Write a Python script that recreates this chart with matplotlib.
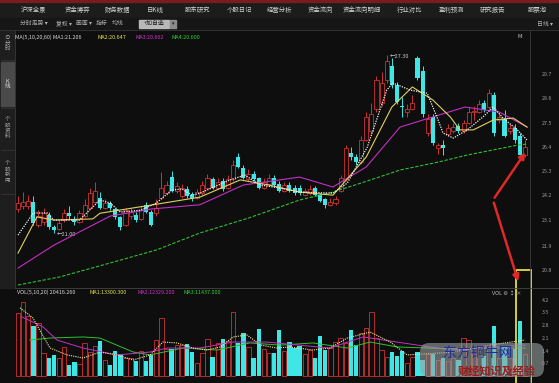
import matplotlib.pyplot as plt
from matplotlib.patches import Rectangle, FancyBboxPatch, FancyArrowPatch

plt.rcParams['font.family'] = ['Noto Sans CJK SC', 'DejaVu Sans']

# 日K线数据: 开 收 高 低
opens = [21.85, 21.95, 21.95, 22.10, 21.30, 21.40, 21.65, 21.20, 21.15, 21.45,
         21.70, 21.50, 21.40, 21.60, 21.90, 22.10, 22.25, 21.90, 22.05, 21.85,
         21.55, 21.30, 21.60, 21.65, 21.50, 22.00, 21.75, 21.70, 22.25, 22.40,
         23.00, 22.50, 22.30, 22.55, 22.35, 22.25, 22.40, 22.60, 22.90, 22.60,
         22.85, 22.60, 22.90, 23.70, 23.30, 22.90, 23.10, 22.95, 22.60, 22.75,
         22.95, 22.75, 22.50, 22.70, 22.60, 22.60, 22.35, 22.40, 22.60, 22.35,
         22.20, 22.00, 22.05, 22.50, 22.90, 23.85, 23.70, 23.50, 24.30, 24.60,
         25.40, 25.60, 26.40, 26.90, 26.25, 25.50, 25.30, 25.40, 27.20, 26.75,
         24.55, 25.10, 24.00, 24.10, 24.50, 24.60, 24.80, 24.60, 24.90, 25.28,
         25.30, 25.60, 25.45, 25.90, 25.00, 25.05, 24.60, 24.70, 24.45, 23.75]
closes = [22.05, 22.10, 22.15, 21.35, 21.60, 21.70, 21.20, 21.10, 21.35, 21.70,
          21.62, 21.38, 21.70, 22.00, 22.40, 22.50, 21.90, 22.05, 21.88, 21.55,
          21.20, 21.80, 21.75, 21.45, 21.80, 21.75, 21.30, 21.90, 22.60, 22.70,
          22.50, 22.65, 22.60, 22.30, 22.25, 22.45, 22.70, 22.95, 22.60, 22.80,
          22.55, 22.90, 23.40, 23.35, 22.95, 23.10, 22.90, 22.60, 22.80, 22.95,
          22.70, 22.50, 22.70, 22.50, 22.40, 22.40, 22.50, 22.55, 22.35, 22.15,
          22.00, 22.10, 22.20, 22.95, 24.00, 23.70, 23.50, 24.30, 25.10, 25.20,
          26.40, 26.30, 27.10, 26.25, 25.65, 25.45, 25.40, 25.60, 26.50, 25.20,
          25.05, 24.20, 24.10, 24.00, 24.70, 24.75, 24.60, 24.90, 25.30, 25.32,
          25.55, 25.35, 25.95, 24.55, 25.10, 24.45, 24.72, 24.30, 23.75, 24.05]
highs = [22.30, 22.45, 22.35, 22.30, 21.80, 21.90, 21.75, 21.30, 21.45, 21.85,
         21.95, 21.60, 21.80, 22.20, 22.60, 22.80, 22.45, 22.20, 22.15, 21.90,
         21.60, 21.90, 21.90, 21.75, 21.95, 22.10, 21.80, 22.20, 23.15, 22.85,
         23.20, 22.80, 22.75, 22.65, 22.45, 22.55, 22.85, 23.10, 23.00, 22.95,
         22.95, 23.05, 23.60, 23.85, 23.40, 23.25, 23.20, 23.00, 22.95, 23.10,
         23.05, 22.85, 22.80, 22.80, 22.70, 22.70, 22.60, 22.70, 22.65, 22.40,
         22.25, 22.25, 22.30, 23.05, 24.10, 24.05, 23.80, 24.45, 25.30, 25.60,
         26.55, 26.70, 27.30, 27.20, 26.35, 25.80, 25.55, 25.90, 27.28, 26.90,
         25.20, 25.20, 24.20, 24.30, 24.85, 24.90, 24.90, 25.00, 25.45, 25.50,
         25.70, 25.70, 26.10, 26.00, 25.25, 25.35, 24.85, 24.85, 24.55, 24.30]
lows = [21.75, 21.85, 21.85, 21.30, 21.20, 21.30, 21.15, 21.00, 21.10, 21.40,
        21.50, 21.30, 21.35, 21.55, 21.85, 22.05, 21.85, 21.85, 21.80, 21.50,
        21.10, 21.25, 21.50, 21.40, 21.45, 21.70, 21.25, 21.60, 22.20, 22.35,
        22.45, 22.40, 22.25, 22.25, 22.15, 22.20, 22.35, 22.55, 22.55, 22.55,
        22.50, 22.55, 22.85, 23.30, 22.90, 22.85, 22.85, 22.55, 22.55, 22.70,
        22.65, 22.45, 22.45, 22.45, 22.35, 22.35, 22.30, 22.35, 22.30, 22.10,
        21.90, 21.95, 22.00, 22.45, 22.85, 23.60, 23.40, 23.45, 24.25, 24.50,
        25.30, 25.50, 26.30, 26.15, 25.55, 25.10, 25.10, 25.35, 26.40, 25.10,
        24.45, 24.10, 23.80, 23.75, 24.45, 24.55, 24.55, 24.55, 24.85, 25.00,
        25.25, 25.30, 25.40, 24.45, 24.90, 24.40, 24.50, 24.20, 23.70, 23.70]
# 成交量
vols = [3.47, 4.08, 3.30, 2.75, 2.90, 1.27, 0.99, 1.16, 1.00, 1.60,
        0.61, 0.77, 0.66, 1.82, 1.32, 1.65, 1.93, 0.88, 0.61, 1.38,
        1.21, 1.00, 0.99, 0.83, 1.38, 0.83, 1.16, 1.98, 3.20, 1.50,
        1.49, 1.70, 1.70, 1.76, 1.32, 0.72, 1.27, 2.04, 1.05, 1.80,
        2.04, 1.90, 3.53, 1.82, 2.37, 1.60, 0.99, 2.59, 1.50, 1.27,
        1.27, 2.53, 1.40, 1.87, 1.54, 1.65, 1.20, 1.43, 0.99, 2.20,
        1.43, 1.54, 1.87, 2.09, 1.80, 2.53, 1.71, 2.37, 2.64, 3.53,
        2.09, 1.43, 1.05, 1.30, 1.10, 1.38, 0.72, 1.05, 1.32, 0.88,
        1.20, 1.20, 0.90, 1.00, 0.80, 1.00, 0.90, 2.09, 2.00, 1.20,
        1.40, 1.10, 1.60, 2.75, 1.00, 1.60, 1.00, 1.50, 3.03, 1.20]

# 均线 (读图取点)
ma5_x = [0, 3, 5.7, 7, 12, 16, 18, 20, 24, 27, 30, 32, 34, 35.5, 41.4, 44.3, 47.3, 51.2, 55,
         61.5, 64.3, 68.2, 72, 73.2, 76.6, 79.9, 81.8, 83, 85, 87.7, 90.8, 92.8, 94.7, 97.5, 99.4]
ma5_v = [20.93, 21.71, 21.71, 21.46, 21.46, 22.17, 22.06, 21.74, 21.81, 22.06, 22.52, 22.56, 22.34,
         22.41, 22.88, 23.05, 22.70, 22.59, 22.45, 22.41, 22.77, 24.04, 26.06, 26.31, 26.06, 25.95,
         25.11, 24.54, 24.36, 24.65, 25.11, 25.46, 25.07, 24.65, 24.29]
ma10_x = [0, 3.7, 7, 14.6, 16, 26, 35.5, 43.4, 49, 55, 61.5, 68, 73, 77, 81, 84.4, 86.3, 88.9,
          92.8, 96.7, 99.4]
ma10_v = [20.29, 21.57, 21.46, 21.50, 21.70, 21.99, 22.27, 22.88, 22.70, 22.45, 22.34, 23.69,
          25.46, 26.17, 25.71, 25.11, 24.65, 24.65, 25.00, 25.07, 24.75]
ma20_x = [0, 7, 18, 26, 35.5, 44, 55, 61.5, 68, 74.6, 81, 87.3, 94, 99.4]
ma20_v = [19.76, 20.57, 21.60, 21.85, 22.00, 22.70, 22.98, 22.63, 23.34, 24.75, 25.11, 25.46,
          25.28, 24.75]
ma60_x = [0, 8, 18, 27, 35.5, 45, 55, 61.5, 67, 74.6, 82, 87.7, 97.5, 99.4]
ma60_v = [19.16, 19.44, 19.94, 20.40, 21.00, 21.53, 22.17, 22.45, 22.77, 23.23, 23.51, 23.76,
          24.11, 24.15]

vma1_x = [0.4, 2.9, 6.25, 9.6, 12.7, 16, 19.3, 22.5, 25.8, 28.3, 31, 34.2, 36.9, 39.5, 42, 44.7,
          47.3, 50.6, 53.1, 57.6, 60.9, 64.3, 68.75, 72.7, 76, 84.4, 92.2, 99]
vma1_v = [3.75, 3.20, 1.54, 1.16, 0.99, 1.32, 1.16, 0.88, 1.16, 1.87, 1.82, 1.54, 1.43, 1.60,
          2.15, 2.26, 1.71, 1.54, 1.60, 1.43, 1.54, 2.09, 2.42, 1.87, 1.16, 1.30, 1.70, 1.98]
vma2_x = [0.8, 4.9, 7.6, 12.7, 19.3, 25.8, 29.1, 35.5, 42, 48.6, 54.5, 60.9, 67.4, 74, 84.4, 99]
vma2_v = [3.25, 2.70, 1.98, 1.54, 1.16, 1.32, 1.54, 1.54, 1.87, 1.87, 1.71, 1.54, 2.15, 1.87,
          1.43, 1.70]
vma3_x = [2.3, 6.25, 12.7, 16, 22.5, 25.8, 32.2, 38.9, 45.3, 51.2, 57.6, 64.3, 68.75, 74, 84.4, 99]
vma3_v = [1.98, 2.09, 2.15, 2.09, 1.32, 1.16, 1.54, 1.43, 1.82, 1.70, 1.82, 1.54, 1.87, 1.60,
          1.50, 1.54]

price_ticks = [29.7, 28.6, 27.5, 26.4, 25.3, 24.2, 23.1, 21.9, 20.8]
vol_ticks = [4.2, 3.5, 2.8, 2.1, 1.4, 0.7]

menu = ['沪深全景', '资金博弈', '财务数据', '日K线', '股东研究', '个股日记', '经营分析',
        '资金流向', '资金流向明细', '行业对比', '盈利预测', '研究报告', '股票池']
menu_x = [34, 77, 118, 155, 198, 240, 280, 320, 362, 410, 452, 492, 537]

RED = '#cc3333'
CYAN = '#3ee6e6'
BG = '#0e0e0e'
W, H = 559, 383

fig = plt.figure(figsize=(5.59, 3.83), dpi=100, facecolor=BG)


def box(x0, y0, x1, y1):
    return [x0 / W, 1 - y1 / H, (x1 - x0) / W, (y1 - y0) / H]


ax = fig.add_axes(box(15, 33, 529, 287), facecolor=BG)
axv = fig.add_axes(box(15, 293, 529, 378), facecolor=BG)

n = len(opens)
xs = list(range(n))
up = [c >= o for o, c in zip(opens, closes)]

# 蜡烛
for i in xs:
    col = RED if up[i] else CYAN
    ax.vlines(i, lows[i], highs[i], color=col, lw=0.7, zorder=2)
    bot = min(opens[i], closes[i])
    h = max(abs(closes[i] - opens[i]), 0.03)
    if up[i]:
        ax.bar(i, h, bottom=bot, width=0.8, facecolor=BG, edgecolor=col, lw=0.6, zorder=3)
    else:
        ax.bar(i, h, bottom=bot, width=0.8, color=col, lw=0, zorder=3)

ax.plot(ma60_x, ma60_v, color='#2fc12f', lw=0.8, ls=(0, (3, 1.5)), zorder=4)
ax.plot(ma20_x, ma20_v, color='#c42fc4', lw=0.8, zorder=4)
ax.plot(ma10_x, ma10_v, color='#e0d060', lw=0.8, zorder=4)
ax.plot(ma5_x, ma5_v, color='#f0f0f0', lw=0.9, ls=(0, (1, 1)), zorder=4)

ax.annotate('←27.30', (72, 27.30), xytext=(2, -1), textcoords='offset points',
            color='#c8c8c8', fontsize=4, va='center', ha='left')
ax.annotate('←21.00', (7, 21.00), xytext=(2, -1), textcoords='offset points',
            color='#c8c8c8', fontsize=4, va='center', ha='left')

ax.set_xlim(-0.586, 99.78)
ax.set_ylim(19.09, 28.08)
ax.set_xticks([])
ax.set_yticks([])
for s in ax.spines.values():
    s.set_visible(False)

# 右侧价格刻度
tw = ax.twinx()
tw.set_ylim(20.04, 31.56)
tw.set_yticks(price_ticks)
tw.set_yticklabels([f'{t:.1f}' for t in price_ticks])
tw.tick_params(axis='y', length=0, pad=9, labelsize=3.8, labelcolor='#9a9a9a')
for s in tw.spines.values():
    s.set_visible(False)

# 成交量
for i in xs:
    if up[i]:
        axv.bar(i, vols[i], width=0.85, facecolor=BG, edgecolor=RED, lw=0.6)
    else:
        axv.bar(i, vols[i], width=0.85, color=CYAN, lw=0)
axv.plot(vma3_x, vma3_v, color='#2fc12f', lw=0.7)
axv.plot(vma2_x, vma2_v, color='#c42fc4', lw=0.7)
axv.plot(vma1_x, vma1_v, color='#f0e890', lw=0.8, ls=(0, (1, 1)))
axv.set_xlim(-0.586, 99.78)
axv.set_ylim(-0.11, 4.57)
axv.set_xticks([])
axv.yaxis.tick_right()
axv.set_yticks(vol_ticks)
axv.set_yticklabels([f'{t:.1f}' for t in vol_ticks])
axv.tick_params(axis='y', length=0, pad=9, labelsize=3.8, labelcolor='#9a9a9a')
for s in axv.spines.values():
    s.set_visible(False)

# 界面框架
ov = fig.add_axes([0, 0, 1, 1], zorder=10)
ov.set_xlim(0, W)
ov.set_ylim(H, 0)
ov.axis('off')
ov.patch.set_alpha(0)

ov.add_patch(Rectangle((0, 0), W, 18, color='#1c1c1c'))
ov.add_patch(Rectangle((0, 0), W, 2, color='#7a1c1c'))
ov.add_patch(Rectangle((0, 18), W, 12, color='#161616'))
ov.plot([0, W], [30, 30], color='#343434', lw=0.6)
for t, x in zip(menu, menu_x):
    ov.text(x, 10, t, color='#d0d0d0', fontsize=4.6, ha='center', va='center')

tools = [('分时走势 ▾', 34), ('复权 ▾', 64), ('画面 ▾', 84), ('指标', 102), ('均线', 118)]
for t, x in tools:
    ov.text(x, 23.5, t, color='#b0b0b0', fontsize=4.2, ha='center', va='center')
ov.add_patch(Rectangle((139, 19.5), 30, 8.5, color='#b8b8b8'))
ov.add_patch(Rectangle((170, 19.5), 6, 8.5, color='#8a8a8a'))
ov.text(154, 23.8, '+加自选', color='#1a1a1a', fontsize=4.2, ha='center', va='center')
ov.text(173, 23.8, '▾', color='#1a1a1a', fontsize=3.5, ha='center', va='center')
ov.text(545, 24, '日线 ▾', color='#b0b0b0', fontsize=4.2, ha='center', va='center')

# 左侧标签
ov.add_patch(Rectangle((0, 30), 14, 258, color='#1e1e1e'))
ov.add_patch(Rectangle((1, 62), 13, 44, color='#4a4a4a'))
ov.plot([15, 15], [30, 288], color='#3a3a3a', lw=0.6)
ov.text(7.5, 46, '分\n时', color='#b0b0b0', fontsize=4, ha='center', va='center', linespacing=1.1)
ov.text(7.5, 84, 'K\n线', color='#e0e0e0', fontsize=4, ha='center', va='center', linespacing=1.2)
ov.text(7.5, 128, '个\n股\n资\n料', color='#a0a0a0', fontsize=4, ha='center', va='center', linespacing=1.1)
ov.text(7.5, 172, '个\n股\n新\n闻', color='#a0a0a0', fontsize=4, ha='center', va='center', linespacing=1.1)
for y in [60, 108, 150, 194]:
    ov.plot([1, 14], [y, y], color='#3a3a3a', lw=0.5)

# 图例
ov.text(7, 37.5, '⊙', color='#b0b0b0', fontsize=4, ha='center', va='center')
legend = [('MA(5,10,20,60) MA1:21.206', 15, '#d8d8d8'), ('MA2:20.647', 98, '#e8e050'),
          ('MA3:20.662', 135, '#d030d0'), ('MA4:20.600', 172, '#30d030')]
for t, x, c in legend:
    ov.text(x, 37.5, t, color=c, fontsize=3.9, ha='left', va='center')
ov.text(518, 37, 'M:', color='#c8c8c8', fontsize=3.8, ha='left', va='center')

vlegend = [('VOL(5,10,20) 20416.260', 17, '#d8d8d8'), ('MA1:13300.300', 90, '#e8e050'),
           ('MA2:12329.200', 137, '#d030d0'), ('MA3:11437.000', 183, '#30d030')]
for t, x, c in vlegend:
    ov.text(x, 292, t, color=c, fontsize=3.9, ha='left', va='center')
ov.text(492, 294, 'VOL ⚙ ↕ ×', color='#b8b8b8', fontsize=3.9, ha='left', va='center')

ov.plot([15, W], [288, 288], color='#444444', lw=0.6)
ov.plot([530, 530], [30, H], color='#3a3a3a', lw=0.6)

# 标注
ov.add_patch(Rectangle((516, 270), 15, 120, fill=False, edgecolor='#e6dc3c', lw=1.3))
ov.add_patch(FancyArrowPatch((493, 200), (527, 150), arrowstyle='-|>', mutation_scale=9,
                             color='#e02828', lw=1.8))
ov.add_patch(FancyArrowPatch((493, 200), (519, 284), arrowstyle='-|>', mutation_scale=9,
                             color='#e02828', lw=1.8))

# 水印
ov.add_patch(FancyBboxPatch((420, 343), 124, 34, boxstyle='round,pad=0,rounding_size=9',
                            fc='#9aa2a2', ec='none', alpha=0.6))
ov.text(478, 353, '东方铜牛网', color='#1f2f9f', fontsize=10, ha='center', va='center')
ov.text(497, 371, '财经知识及经验', color='#a01818', fontsize=8, ha='center', va='center',
        fontweight='bold')

fig.savefig('out.png', dpi=100, facecolor=BG)
